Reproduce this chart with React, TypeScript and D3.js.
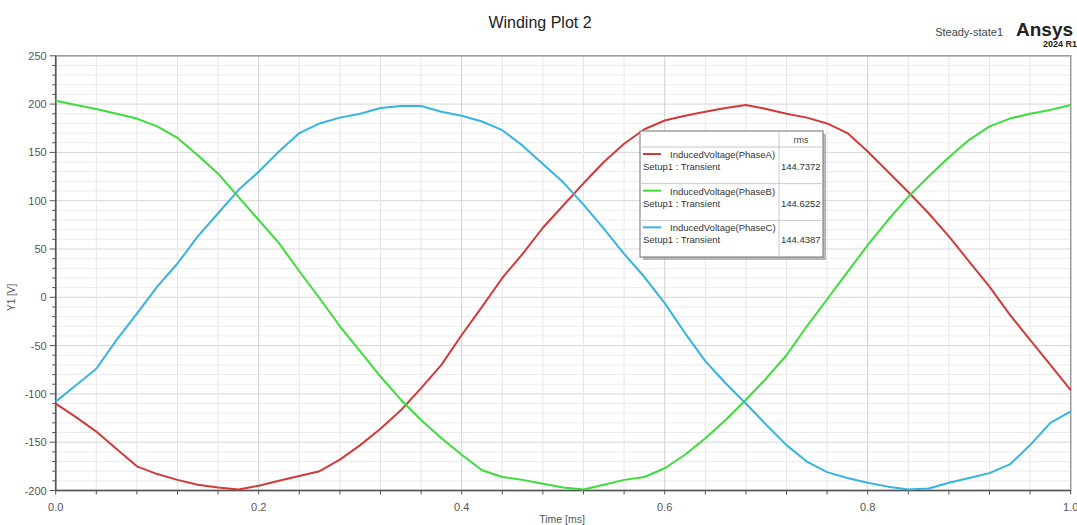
import React from "react";
import * as d3 from "d3";

const times = d3.range(0, 51).map((i) => i / 50);

const phaseA = [
  -110, -124, -139, -157, -175, -183, -189, -194, -197, -199, -195, -190, -185,
  -180, -168, -153, -136, -117, -94, -70, -39, -10, 20, 45, 72, 95, 118, 140,
  159, 174, 183, 188, 192, 196, 199, 195, 190, 186, 180, 170, 151, 130, 109, 87,
  63, 37, 11, -18, -44, -70, -96,
];
const phaseB = [
  203.5, 199, 195, 190, 185, 177, 165, 147, 128, 104, 80, 56, 27, -1, -30, -56,
  -82, -106, -127, -146, -163, -179, -186, -189, -193, -197, -199, -194, -189,
  -186, -177, -163, -146, -127, -106, -84, -60, -30, -2, 26, 54, 80, 104, 125,
  145, 163, 177, 185, 190, 194, 199,
];
const phaseC = [
  -108, -91, -74, -44, -17, 11, 35, 63, 87, 111, 130, 151, 170, 180, 186, 190,
  196, 198, 198, 192, 188, 182, 173, 157, 138, 119, 96, 71, 45, 21, -6, -37, -66,
  -89, -110, -132, -153, -170, -181, -187, -192, -196, -199, -198, -192, -187,
  -182, -173, -153, -130, -118,
];

const seriesNames = [
  "InducedVoltage(PhaseA)",
  "InducedVoltage(PhaseB)",
  "InducedVoltage(PhaseC)",
];
const rmsValues = ["144.7372", "144.6252", "144.4387"];
const colors = ["#d23a3a", "#3ddc3a", "#36b4e0"];

const xTicks = [0, 0.2, 0.4, 0.6, 0.8, 1.0];
const yTicks = [250, 200, 150, 100, 50, 0, -50, -100, -150, -200];

export default function App() {
  const x = d3.scaleLinear().domain([0, 1]).range([55.7, 1070.7]);
  const y = d3.scaleLinear().domain([-200, 250]).range([490.5, 55.8]);
  const line = d3
    .line<number>()
    .x((_, i) => x(times[i]))
    .y((d) => y(d));

  const minorX = d3.range(0, 26).map((i) => i * 0.04);
  const minorY = d3.range(-200, 251, 10);
  const font = "Arial, 'Liberation Sans', sans-serif";

  // legend geometry
  const lg = { x: 640, y: 131, w: 183, h: 126, col: 779, head: 16 };
  const rowH = (lg.h - lg.head) / 3;

  return (
    <svg
      width={1077}
      height={525}
      style={{ position: "absolute", left: 0, top: 0, background: "#fff" }}
      fontFamily={font}
    >
      <rect width={1077} height={525} fill="#fff" />
      {/* grid */}
      {minorY.map((v) => (
        <line
          key={"gy" + v}
          x1={x(0)}
          x2={x(1)}
          y1={y(v)}
          y2={y(v)}
          stroke={v % 50 === 0 ? "#d6d6d6" : "#ececec"}
          strokeWidth={1}
        />
      ))}
      {minorX.map((t) => (
        <line
          key={"gx" + t}
          x1={x(t)}
          x2={x(t)}
          y1={y(250)}
          y2={y(-200)}
          stroke={Math.round(t * 100) % 20 === 0 ? "#d2d2d2" : "#e6e6e6"}
          strokeWidth={1}
        />
      ))}
      {/* frame */}
      <rect
        x={x(0)}
        y={y(250)}
        width={x(1) - x(0)}
        height={y(-200) - y(250)}
        fill="none"
        stroke="#9a9a9a"
        strokeWidth={1.5}
      />
      {/* axes */}
      <line x1={x(0)} x2={x(0)} y1={y(250)} y2={y(-200)} stroke="#555" strokeWidth={1.5} />
      <line x1={x(0)} x2={x(1)} y1={y(-200)} y2={y(-200)} stroke="#555" strokeWidth={1.5} />
      {minorY.map((v) => (
        <line
          key={"ty" + v}
          x1={x(0) - (v % 50 === 0 ? 6 : 3.5)}
          x2={x(0)}
          y1={y(v)}
          y2={y(v)}
          stroke="#555"
        />
      ))}
      {minorX.map((t) => (
        <line
          key={"tx" + t}
          x1={x(t)}
          x2={x(t)}
          y1={y(-200)}
          y2={y(-200) + 4}
          stroke="#555"
        />
      ))}
      {yTicks.map((v) => (
        <text
          key={"ly" + v}
          x={x(0) - 9}
          y={y(v) + 4}
          textAnchor="end"
          fontSize={11}
          fill="#555"
        >
          {v}
        </text>
      ))}
      {xTicks.map((t) => (
        <text
          key={"lx" + t}
          x={x(t)}
          y={511}
          textAnchor="middle"
          fontSize={11}
          fill="#555"
        >
          {t.toFixed(1)}
        </text>
      ))}
      <text x={562} y={523} textAnchor="middle" fontSize={10.5} fill="#555">
        Time [ms]
      </text>
      <text
        transform={`translate(15, ${y(0)}) rotate(-90)`}
        textAnchor="middle"
        fontSize={10}
        fill="#555"
      >
        Y1 [V]
      </text>

      {/* curves */}
      {[phaseA, phaseB, phaseC].map((s, i) => (
        <path
          key={"s" + i}
          d={line(s) || ""}
          fill="none"
          stroke={colors[i]}
          strokeWidth={2}
          strokeLinejoin="round"
        />
      ))}

      {/* titles */}
      <text x={540} y={28} textAnchor="middle" fontSize={16} fill="#222">
        Winding Plot 2
      </text>
      <text x={1003} y={36} textAnchor="end" fontSize={11} fill="#444">
        Steady-state1
      </text>
      <text x={1016} y={36} fontSize={19} fontWeight="bold" fill="#222">
        Ansys
      </text>
      <text x={1077} y={47} textAnchor="end" fontSize={9} fontWeight="bold" fill="#222">
        2024 R1
      </text>

      {/* legend */}
      <rect x={lg.x + 3} y={lg.y + 3} width={lg.w} height={lg.h} fill="#8a8a8a" opacity={0.6} />
      <rect x={lg.x} y={lg.y} width={lg.w} height={lg.h} fill="#fff" stroke="#888" strokeWidth={1.2} />
      <line x1={lg.col} x2={lg.col} y1={lg.y} y2={lg.y + lg.h} stroke="#c8c8c8" />
      <text x={(lg.col + lg.x + lg.w) / 2} y={lg.y + 12} textAnchor="middle" fontSize={9} fill="#444">
        rms
      </text>
      {seriesNames.map((name, i) => {
        const top = lg.y + lg.head + i * rowH;
        return (
          <g key={"lg" + i}>
            <line x1={lg.x} x2={lg.x + lg.w} y1={top} y2={top} stroke="#c8c8c8" />
            <line x1={lg.x + 3} x2={lg.x + 21} y1={top + 7} y2={top + 7} stroke={colors[i]} strokeWidth={2} />
            <text x={lg.x + 30} y={top + 11} fontSize={9.5} fill="#333">
              {name}
            </text>
            <text x={lg.x + 3} y={top + 23} fontSize={9.5} fill="#333">
              Setup1 : Transient
            </text>
            <text x={lg.col + 2} y={top + 23} fontSize={9.5} fill="#333">
              {rmsValues[i]}
            </text>
          </g>
        );
      })}
    </svg>
  );
}
